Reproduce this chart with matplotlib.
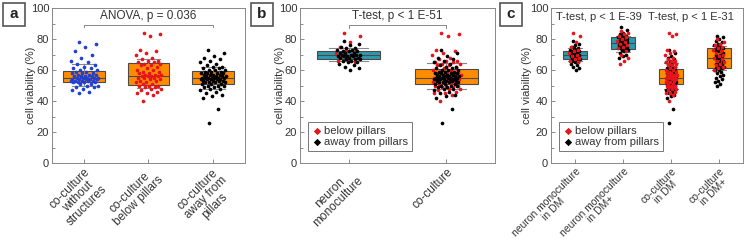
import numpy as np
import matplotlib
matplotlib.use("Agg")
import matplotlib.pyplot as plt
from matplotlib.patches import Rectangle
from matplotlib.ticker import MultipleLocator

plt.rcParams["font.family"] = ["Liberation Sans", "DejaVu Sans"]

# ---- data (cell viability, %) ----
without_struct = [78, 77, 75, 72, 70, 68, 66, 65, 64, 63, 62, 61, 61, 60, 60, 59, 59, 58, 58, 58,
                  57, 57, 57, 56, 56, 56, 56, 55, 55, 55, 55, 55, 54, 54, 54, 54, 54, 53, 53, 53,
                  53, 53, 52, 52, 52, 52, 51, 51, 50, 50, 49, 49, 48, 47, 46, 45]
below_pillars = [84, 83, 82, 73, 72, 71, 70, 68, 67, 66, 66, 65, 65, 64, 64, 63, 63, 62, 61, 60,
                 60, 59, 59, 58, 58, 57, 57, 57, 56, 56, 56, 56, 55, 55, 55, 54, 54, 53, 53, 52,
                 52, 51, 51, 50, 50, 50, 49, 49, 48, 48, 47, 46, 45, 45, 44, 40]
away_pillars = [73, 71, 69, 68, 67, 66, 65, 64, 63, 62, 62, 61, 61, 60, 60, 60, 59, 59, 59, 58,
                58, 58, 58, 57, 57, 57, 57, 56, 56, 56, 56, 56, 55, 55, 55, 55, 55, 55, 54, 54,
                54, 54, 54, 53, 53, 53, 53, 52, 52, 52, 52, 51, 51, 51, 50, 50, 50, 49, 49, 48,
                48, 47, 46, 45, 44, 43, 42, 35, 26]

mono_dm_below = [84, 82, 78, 75, 73, 72, 71, 70, 69, 68, 67, 66, 65]
mono_dm_away = [79, 77, 76, 75, 74, 74, 73, 73, 72, 72, 72, 71, 71, 71, 70, 70, 70, 70, 69, 69,
                69, 69, 68, 68, 68, 67, 67, 67, 66, 66, 65, 65, 64, 63, 62, 61, 60]
mono_dmp_below = [85, 84, 83, 82, 81, 80, 79, 78, 77, 76, 75, 74, 72, 70, 68, 66, 64]
mono_dmp_away = [88, 86, 84, 83, 82, 82, 81, 81, 80, 80, 80, 79, 79, 78, 78, 78, 77, 77, 77, 76,
                 76, 76, 75, 75, 74, 74, 73, 73, 72, 71, 70, 69, 68]
co_dmp_below = [80, 78, 77, 76, 75, 74, 73, 72, 71, 70, 69, 68, 67, 66, 65, 64, 63, 62, 61, 60]
co_dmp_away = [82, 81, 80, 79, 78, 77, 76, 75, 75, 74, 74, 73, 72, 72, 71, 70, 70, 69, 68, 68,
               67, 66, 66, 65, 64, 64, 63, 62, 62, 61, 61, 60, 60, 59, 58, 57, 56, 55, 54, 53,
               52, 51, 50]

# box statistics: q1, median, q3, lower cap, upper cap
box_a = dict(q1=[52, 50.5, 51], med=[55, 56, 55], q3=[59.5, 64.5, 59.5],
             lo=[49.5, 48.5, 47.5], hi=[64, 67, 62])
box_b = dict(q1=[67, 51], med=[69.5, 55], q3=[72.5, 60.5], lo=[65.5, 48], hi=[74, 64.5])
box_c = dict(q1=[67, 73.5, 51, 61], med=[69.5, 77.5, 55, 68], q3=[72.5, 81, 60.5, 74.5],
             lo=[65.5, 71.5, 48, 60], hi=[74, 82, 64.5, 75.5])

labels_a = ["co-culture\nwithout\nstructures", "co-culture\nbelow pillars",
            "co-culture\naway from\npillars"]
labels_b = ["neuron\nmonoculture", "co-culture"]
labels_c = ["neuron monoculture\nin DM", "neuron monoculture\nin DM+",
            "co-culture\nin DM", "co-culture\nin DM+"]

ORANGE = "#FF8C00"
TEAL = "#2C9AAD"
RED = "#e8141c"
BLUE = "#2040d6"
EDGE = "#4a4a4a"
TXT = "#333333"


def jitter(n, half):
    # deterministic spread of points around the box centre
    k = np.arange(n)
    return ((k * 0.618034 + 0.31) % 1.0 - 0.5) * 2 * half


def draw_boxes(ax, st, colors, width, capw):
    n = len(st["q1"])
    stats = [dict(q1=st["q1"][i], med=st["med"][i], q3=st["q3"][i],
                  whislo=st["lo"][i], whishi=st["hi"][i], fliers=[]) for i in range(n)]
    bp = ax.bxp(stats, positions=range(1, n + 1), widths=width, capwidths=capw,
                patch_artist=True, showfliers=False,
                boxprops=dict(edgecolor=EDGE, linewidth=0.8),
                medianprops=dict(color=EDGE, linewidth=0.8),
                whiskerprops=dict(color="#888888", linewidth=0.8),
                capprops=dict(color="#888888", linewidth=0.8), zorder=1)
    for patch, c in zip(bp["boxes"], colors):
        patch.set_facecolor(c)


def dots(ax, pos, vals, color, half, size=7):
    v = np.asarray(vals, dtype=float)
    ax.scatter(pos + jitter(len(v), half), v, s=size, color=color, linewidths=0, zorder=3)


def style(ax, labels, ylab_x, fs=8.5):
    ax.set_ylim(0, 100)
    ax.set_xlim(0.5, len(labels) + 0.5)
    ax.yaxis.set_major_locator(MultipleLocator(20))
    ax.yaxis.set_minor_locator(MultipleLocator(10))
    ax.tick_params(direction="in", length=3, width=0.6, colors="#777777",
                   labelcolor=TXT, labelsize=8, pad=2)
    ax.tick_params(which="minor", direction="in", length=2, width=0.6, colors="#777777")
    ax.set_xticks(range(1, len(labels) + 1))
    ax.set_xticklabels(labels, rotation=45, ha="right", rotation_mode="anchor",
                       multialignment="center", fontsize=fs, color=TXT, linespacing=1.0)
    ax.set_ylabel("cell viability (%)", fontsize=8, color=TXT)
    ax.yaxis.set_label_coords(ylab_x, 0.5)
    for s in ax.spines.values():
        s.set_color("#888888")
        s.set_linewidth(0.7)


fig = plt.figure(figsize=(7.45, 2.47), dpi=100)
H = 247.0
W = 745.0
axa = fig.add_axes([52 / W, (H - 163) / H, 193 / W, 155 / H])
axb = fig.add_axes([300 / W, (H - 163) / H, 195 / W, 155 / H])
axc = fig.add_axes([551 / W, (H - 163) / H, 192 / W, 155 / H])

# panel a
draw_boxes(axa, box_a, [ORANGE] * 3, 0.65, 0.37)
dots(axa, 1, without_struct, BLUE, 0.22)
dots(axa, 2, below_pillars, RED, 0.2)
dots(axa, 3, away_pillars, "black", 0.2)
style(axa, labels_a, -0.085)
axa.plot([1, 1, 3, 3], [87.5, 89, 89, 87.5], color="#888888", lw=0.7)
axa.text(2, 91, "ANOVA, p = 0.036", ha="center", va="bottom", fontsize=8.5, color=TXT)

# panel b
draw_boxes(axb, box_b, [TEAL, ORANGE], 0.65, 0.4)
dots(axb, 1, mono_dm_below, RED, 0.14)
dots(axb, 1, mono_dm_away, "black", 0.12)
dots(axb, 2, below_pillars, RED, 0.15)
dots(axb, 2, away_pillars, "black", 0.13)
style(axb, labels_b, -0.075)
axb.plot([1, 1, 2, 2], [87, 89, 89, 87], color="#888888", lw=0.7)
axb.text(1.5, 91, "T-test, p < 1 E-51", ha="center", va="bottom", fontsize=8.5, color=TXT)

# panel c
draw_boxes(axc, box_c, [TEAL, TEAL, ORANGE, ORANGE], 0.48, 0.3)
for pos, aw, bl in [(1, mono_dm_away, mono_dm_below), (2, mono_dmp_away, mono_dmp_below),
                    (3, away_pillars, below_pillars), (4, co_dmp_away, co_dmp_below)]:
    dots(axc, pos, aw, "black", 0.1)
    dots(axc, pos, bl, RED, 0.12)
style(axc, labels_c, -0.1, fs=7.5)
axc.text(1.5, 91, "T-test, p < 1 E-39", ha="center", va="bottom", fontsize=8, color=TXT)
axc.text(3.42, 91, "T-test, p < 1 E-31", ha="center", va="bottom", fontsize=8, color=TXT)

# legends
for ax in (axb, axc):
    h1 = ax.scatter([], [], s=14, color=RED, marker="D", linewidths=0)
    h2 = ax.scatter([], [], s=14, color="black", marker="D", linewidths=0)
    leg = ax.legend([h1, h2], ["below pillars", "away from pillars"], loc="lower left",
                    bbox_to_anchor=(0.04, 0.08), fontsize=8, frameon=True, fancybox=False,
                    handletextpad=0.1, handlelength=1.0, borderpad=0.35, labelspacing=0.1,
                    borderaxespad=0)
    leg.get_frame().set_edgecolor("#555555")
    leg.get_frame().set_linewidth(0.7)
    for t in leg.get_texts():
        t.set_color(TXT)

# panel letters
for x0, letter in [(3, "a"), (251, "b"), (500, "c")]:
    fig.patches.append(Rectangle((x0 / W, 1 - 26 / H), 22 / W, 23 / H, transform=fig.transFigure,
                                 fill=False, edgecolor="#555555", linewidth=1.2))
    fig.text((x0 + 11) / W, 1 - 14.5 / H, letter, ha="center", va="center",
             fontsize=11, fontweight="bold", color="#222222")

fig.savefig("out.png", dpi=100)
